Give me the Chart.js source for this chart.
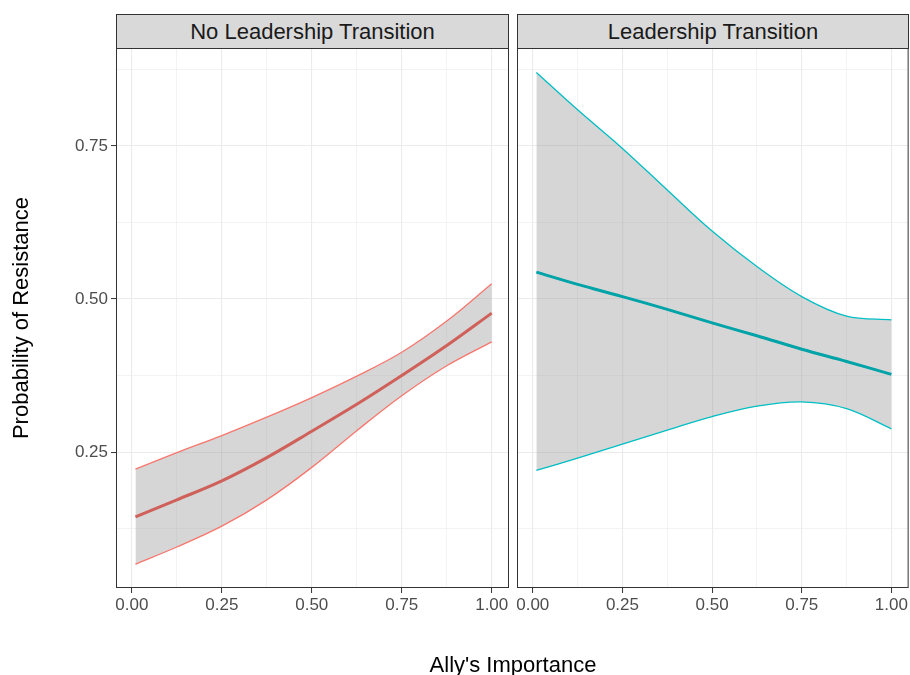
<!DOCTYPE html>
<html>
<head>
<meta charset="utf-8">
<script src="https://cdn.jsdelivr.net/npm/chart.js@4.4.1/dist/chart.umd.min.js"></script>
<style>
  html, body { margin: 0; padding: 0; background: #fff; }
  body { width: 910px; height: 675px; position: relative; overflow: hidden; font-family: 'Liberation Sans', Arial, sans-serif; }
  canvas { position: absolute; top: 0; }
  #c1 { left: 0; }
  #c2 { left: 513px; }
  .strip { position: absolute; top: 14px; height: 35px; box-sizing: border-box; border: 1px solid #333; background: #d9d9d9; color: #1a1a1a; font-size: 22px; display: flex; align-items: center; justify-content: center; }
  #strip1 { left: 116px; width: 393px; }
  #strip2 { left: 517px; width: 392px; }
  .ytitle { position: absolute; left: -139px; top: 306px; width: 320px; height: 24px; line-height: 24px; text-align: center; font-size: 22px; color: #000; transform: rotate(-90deg); }
  .xtitle { position: absolute; left: 313px; top: 654px; width: 400px; line-height: 22px; text-align: center; font-size: 22px; color: #000; }
</style>
</head>
<body>
<canvas id="c1" width="513" height="675"></canvas>
<canvas id="c2" width="397" height="675"></canvas>
<div class="strip" id="strip1"></div>
<div class="strip" id="strip2"></div>
<div class="ytitle" id="yTitle"></div>
<div class="xtitle" id="xTitle"></div>
<script>
// ==================== Data ====================
const panelTitles = ['No Leadership Transition', 'Leadership Transition'];
const xAxisTitle = "Ally's Importance";
const yAxisTitle = 'Probability of Resistance';

const allyImportance = [0.01, 0.125, 0.25, 0.375, 0.5, 0.625, 0.75, 0.875, 1.0];

// no leadership transition
const noTransFit   = [0.144, 0.172, 0.203, 0.241, 0.284, 0.328, 0.375, 0.424, 0.477];
const noTransUpper = [0.222, 0.249, 0.277, 0.307, 0.339, 0.374, 0.413, 0.464, 0.525];
const noTransLower = [0.067, 0.095, 0.129, 0.172, 0.225, 0.285, 0.342, 0.391, 0.430];

// leadership transition
const transFit   = [0.544, 0.524, 0.504, 0.483, 0.461, 0.440, 0.418, 0.398, 0.377];
const transUpper = [0.870, 0.809, 0.746, 0.678, 0.611, 0.553, 0.504, 0.472, 0.466];
const transLower = [0.220, 0.240, 0.263, 0.286, 0.308, 0.325, 0.332, 0.321, 0.288];

const xTicks = [0, 0.125, 0.25, 0.375, 0.5, 0.625, 0.75, 0.875, 1.0];
const yTicks = [0.125, 0.25, 0.375, 0.5, 0.625, 0.75, 0.875];

// ==================== Helpers ====================
const FONT = "'Liberation Sans', Arial, sans-serif";
const isMajor = v => Math.abs(v * 4 - Math.round(v * 4)) < 1e-9;
const pts = ys => allyImportance.map((x, i) => ({x: x, y: ys[i]}));

const panelBorder = {
    id: 'panelBorder',
    afterDraw(chart) {
        const {ctx, chartArea: a} = chart;
        ctx.save();
        ctx.strokeStyle = '#333333';
        ctx.lineWidth = 1;
        ctx.strokeRect(a.left + 0.5, a.top + 0.5, a.right - a.left - 1, a.bottom - a.top - 1);
        ctx.restore();
    }
};

function gridOpts() {
    return {
        color: '#ebebeb',
        lineWidth: c => (c.tick && isMajor(c.tick.value)) ? 1.1 : 0.6,
        tickColor: c => (c.tick && isMajor(c.tick.value)) ? '#333333' : 'rgba(0,0,0,0)',
        tickWidth: 1,
        tickLength: 5
    };
}

function makePanel(id, fit, upper, lower, bandColor, fitColor, showY, padding) {
    return new Chart(document.getElementById(id).getContext('2d'), {
        type: 'line',
        data: {
            datasets: [
                {data: pts(fit), borderColor: fitColor, borderWidth: 3, fill: false},
                {data: pts(upper), borderColor: bandColor, borderWidth: 1.3, fill: false},
                {data: pts(lower), borderColor: bandColor, borderWidth: 1.3, fill: '-1',
                 backgroundColor: 'rgba(153,153,153,0.4)'}
            ]
        },
        options: {
            responsive: false,
            animation: false,
            devicePixelRatio: 1,
            layout: {padding: padding},
            elements: {
                point: {radius: 0, hoverRadius: 0},
                line: {tension: 0.35, borderCapStyle: 'butt'}
            },
            plugins: {legend: {display: false}, tooltip: {enabled: false}},
            scales: {
                x: {
                    type: 'linear', min: -0.044, max: 1.048,
                    afterBuildTicks: s => { s.ticks = xTicks.map(v => ({value: v})); },
                    afterFit: s => { s.height = 87; },
                    grid: gridOpts(),
                    border: {display: false},
                    ticks: {
                        autoSkip: false, maxRotation: 0, padding: 2,
                        color: '#4d4d4d', font: {family: FONT, size: 17},
                        callback: v => isMajor(v) ? v.toFixed(2) : ''
                    }
                },
                y: {
                    type: 'linear', min: 0.028, max: 0.910,
                    afterBuildTicks: s => { s.ticks = yTicks.map(v => ({value: v})); },
                    afterFit: s => { s.width = showY ? 116 : 0; },
                    grid: Object.assign(gridOpts(), {drawTicks: showY}),
                    border: {display: false},
                    ticks: {
                        display: showY, padding: 3,
                        color: '#4d4d4d', font: {family: FONT, size: 17},
                        callback: v => isMajor(v) ? v.toFixed(2) : ''
                    }
                }
            }
        },
        plugins: [panelBorder]
    });
}

// ==================== Init ====================
document.getElementById('strip1').textContent = panelTitles[0];
document.getElementById('strip2').textContent = panelTitles[1];
document.getElementById('xTitle').textContent = xAxisTitle;
document.getElementById('yTitle').textContent = yAxisTitle;

makePanel('c1', noTransFit, noTransUpper, noTransLower, '#F8766D', '#CF615A', true,
    {left: 0, top: 48, right: 4, bottom: 0});
makePanel('c2', transFit, transUpper, transLower, '#00BFC4', '#00A3A7', false,
    {left: 4, top: 48, right: 1, bottom: 0});
</script>
</body>
</html>
